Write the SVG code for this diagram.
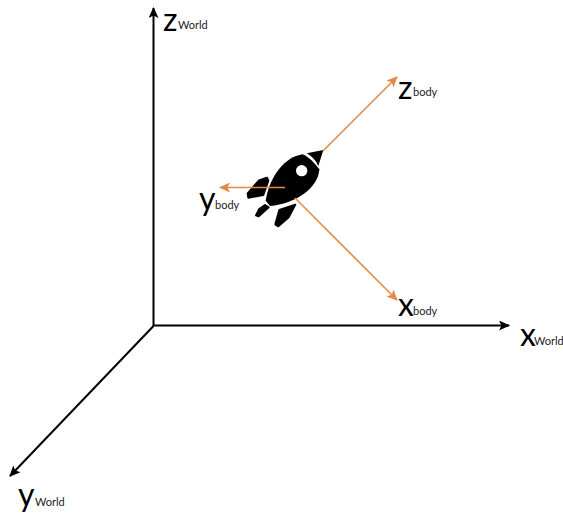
<svg xmlns="http://www.w3.org/2000/svg" width="563" height="513" viewBox="0 0 563 513">
<style>
.w{stroke:#000;stroke-width:2;fill:none}
.b{stroke:#E48A46;stroke-width:1.6;fill:none}
.r{fill:#000;stroke:#000;stroke-width:6;stroke-linejoin:round}
text{font-family:Lato,"Liberation Sans",sans-serif;fill:#000}
.l{font-size:32px}
.s{font-size:11px;fill:#222}
</style>
<defs>
<marker id="ak" markerUnits="userSpaceOnUse" markerWidth="12" markerHeight="10" refX="10" refY="5" orient="auto"><path d="M0 0L11 5L0 10L2.500 5Z" fill="#000"/></marker>
<marker id="ao" markerUnits="userSpaceOnUse" markerWidth="12" markerHeight="10" refX="10" refY="5" orient="auto"><path d="M0 0L11 5L0 10L2.500 5Z" fill="#E48A46"/></marker>
</defs>
<rect width="563" height="513" fill="#fff"/>
<g id="rocket" transform="translate(190 130) scale(.3333)">
<path d="M338 73C285 80 238 140 227 212L240 228C315 222 385 175 388 118C375 100 355 80 338 73Z" fill="#000"/>
<circle cx="335" cy="122" r="17" fill="#fff"/>
<path d="M350 70L400 60L385 108C378 92 365 78 350 70Z" fill="#000"/>
<path class="r" d="M231 143L207 151L173 190L175 203L220 195L235 152Z"/>
<path class="r" d="M225 225L207 238L198 256L206 259L236 232Z"/>
<path class="r" d="M316 224L268 240L256 283L265 289L296 262Z"/>
</g>
<g id="connectors">
<path class="w" marker-end="url(#ak)" d="M153.500 326V8"/>
<path class="w" marker-end="url(#ak)" d="M153 325.500H509"/>
<path class="w" marker-end="url(#ak)" d="M153.500 326L10 476"/>
<path class="b" marker-end="url(#ao)" d="M323 151L397 77"/>
<path class="b" marker-end="url(#ao)" d="M295 198L397 300"/>
<path class="b" marker-end="url(#ao)" d="M285 187.500H220"/>
</g>
<g id="z-world"><text class="l" x="163" y="31">z</text><text class="s" x="178" y="29">World</text></g>
<g id="x-world"><text class="l" x="520" y="346">x</text><text class="s" x="534" y="345">World</text></g>
<g id="y-world"><text class="l" x="18" y="506">y</text><text class="s" x="35" y="506">World</text></g>
<g id="z-body"><text class="l" x="398" y="99">z</text><text class="s" x="413" y="96">body</text></g>
<g id="x-body"><text class="l" x="398" y="316">x</text><text class="s" x="413" y="315">body</text></g>
<g id="y-body"><text class="l" x="199" y="210">y</text><text class="s" x="215" y="209">body</text></g>
</svg>
